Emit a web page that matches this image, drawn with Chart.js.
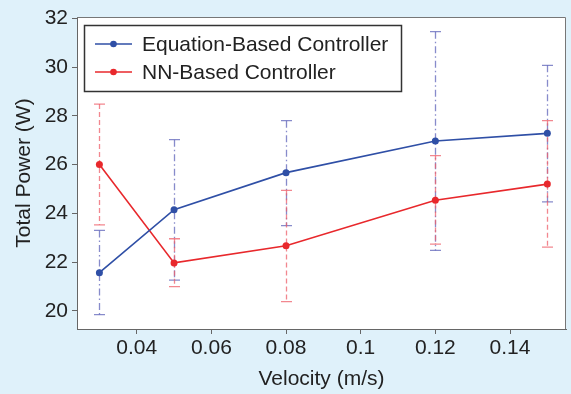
<!DOCTYPE html>
<html>
<head>
<meta charset="utf-8">
<script src="https://cdn.jsdelivr.net/npm/chart.js@4"></script>
<style>
  html, body { margin: 0; padding: 0; background: #dff1fa; }
  #wrap { width: 571px; height: 394px; }
</style>
</head>
<body>
<div id="wrap"><canvas id="powerChart" width="571" height="394"></canvas></div>
<script>
// velocities (m/s)
const velocities = [0.03, 0.05, 0.08, 0.12, 0.15];

// mean total power (W)
const eqPower = [21.57, 24.15, 25.67, 26.97, 27.28];
const nnPower = [26.0, 21.97, 22.67, 24.54, 25.2];

// error bar ends
const eqLower = [19.85, 21.26, 23.5, 22.48, 24.47];
const eqUpper = [23.3, 27.02, 27.8, 31.45, 30.07];
const nnLower = [23.53, 21.0, 20.38, 22.74, 22.62];
const nnUpper = [28.48, 22.96, 24.94, 26.37, 27.8];

const xTicks = [0.04, 0.06, 0.08, 0.1, 0.12, 0.14];
const xTickLabels = ['0.04', '0.06', '0.08', '0.1', '0.12', '0.14'];
const yTicks = [20, 22, 24, 26, 28, 30, 32];
const yTickLabels = ['20', '22', '24', '26', '28', '30', '32'];

const seriesNames = ['Equation-Based Controller', 'NN-Based Controller'];

const FONT = 'Liberation Sans, Arial, Helvetica, sans-serif';
const blue = '#2f4fa6';
const red = '#e8282c';

function toPoints(ys) {
    return velocities.map((v, i) => ({ x: v, y: ys[i] }));
}

// background + white plot area + box
const backdrop = {
    id: 'backdrop',
    beforeDraw(chart) {
        const { ctx, chartArea: a } = chart;
        ctx.save();
        ctx.fillStyle = '#dff1fa';
        ctx.fillRect(0, 0, chart.width, chart.height);
        ctx.fillStyle = '#ffffff';
        ctx.fillRect(a.left, a.top, a.right - a.left, a.bottom - a.top);
        ctx.restore();
    },
    afterDraw(chart) {
        const { ctx, chartArea: a } = chart;
        ctx.save();
        ctx.strokeStyle = '#777';
        ctx.lineWidth = 1;
        ctx.beginPath();
        ctx.moveTo(a.left, a.top + 0.5);
        ctx.lineTo(a.right - 0.5, a.top + 0.5);
        ctx.lineTo(a.right - 0.5, a.bottom);
        ctx.stroke();
        ctx.restore();
    }
};

// vertical error bars with caps
const errorBars = {
    id: 'errorBars',
    beforeDatasetsDraw(chart) {
        const { ctx, scales: { x, y } } = chart;
        const sets = [
            { lo: eqLower, hi: eqUpper, color: 'rgba(95,100,185,0.75)', dash: [7, 3, 1.5, 3] },
            { lo: nnLower, hi: nnUpper, color: 'rgba(238,95,105,0.75)', dash: [5, 3] }
        ];
        ctx.save();
        sets.forEach(s => {
            ctx.strokeStyle = s.color;
            ctx.lineWidth = 1.3;
            velocities.forEach((v, i) => {
                const px = Math.round(x.getPixelForValue(v)) + 0.5;
                const top = y.getPixelForValue(s.hi[i]);
                const bot = y.getPixelForValue(s.lo[i]);
                ctx.setLineDash(s.dash);
                ctx.beginPath();
                ctx.moveTo(px, top);
                ctx.lineTo(px, bot);
                ctx.stroke();
                ctx.setLineDash([]);
                ctx.beginPath();
                ctx.moveTo(px - 5.5, top);
                ctx.lineTo(px + 5.5, top);
                ctx.moveTo(px - 5.5, bot);
                ctx.lineTo(px + 5.5, bot);
                ctx.stroke();
            });
        });
        ctx.restore();
    }
};

// boxed legend in the upper left
const boxLegend = {
    id: 'boxLegend',
    afterDraw(chart) {
        const { ctx } = chart;
        ctx.save();
        ctx.fillStyle = '#fff';
        ctx.fillRect(84.5, 25.5, 317, 66);
        ctx.strokeStyle = '#333';
        ctx.lineWidth = 1.5;
        ctx.strokeRect(84.5, 25.5, 317, 66);
        chart.data.datasets.forEach((ds, i) => {
            const yy = 44 + i * 28;
            ctx.strokeStyle = ds.borderColor;
            ctx.lineWidth = 1.6;
            ctx.beginPath();
            ctx.moveTo(95, yy);
            ctx.lineTo(132, yy);
            ctx.stroke();
            ctx.fillStyle = ds.borderColor;
            ctx.beginPath();
            ctx.arc(113.5, yy, 3.3, 0, Math.PI * 2);
            ctx.fill();
            ctx.fillStyle = '#222';
            ctx.font = '21px ' + FONT;
            ctx.textBaseline = 'middle';
            ctx.fillText(ds.label, 142, yy + 1);
        });
        ctx.restore();
    }
};

const ctx = document.getElementById('powerChart').getContext('2d');
new Chart(ctx, {
    type: 'line',
    data: {
        datasets: [
            {
                label: seriesNames[0],
                data: toPoints(eqPower),
                borderColor: blue,
                backgroundColor: blue,
                borderWidth: 1.6,
                pointRadius: 3.5,
                pointBackgroundColor: blue,
                pointBorderWidth: 0
            },
            {
                label: seriesNames[1],
                data: toPoints(nnPower),
                borderColor: red,
                backgroundColor: red,
                borderWidth: 1.6,
                pointRadius: 3.5,
                pointBackgroundColor: red,
                pointBorderWidth: 0
            }
        ]
    },
    options: {
        responsive: false,
        animation: false,
        layout: { padding: { top: 17, right: 5, bottom: 0, left: 0 } },
        plugins: {
            legend: { display: false },
            tooltip: { enabled: false }
        },
        scales: {
            x: {
                type: 'linear',
                min: 0.024,
                max: 0.155,
                afterBuildTicks: s => { s.ticks = xTicks.map(v => ({ value: v })); },
                afterFit: s => { s.height = 65; },
                ticks: {
                    callback: (v, i) => xTickLabels[i],
                    font: { family: FONT, size: 21 },
                    color: '#222',
                    padding: 2,
                    maxRotation: 0
                },
                grid: { drawOnChartArea: false, drawTicks: true, tickLength: 5, color: '#666' },
                border: { display: true, color: '#666' },
                title: {
                    display: true,
                    text: 'Velocity (m/s)',
                    font: { family: FONT, size: 21 },
                    color: '#222',
                    padding: { top: 0, bottom: 2 }
                }
            },
            y: {
                min: 19.26,
                max: 32.05,
                afterBuildTicks: s => { s.ticks = yTicks.map(v => ({ value: v })); },
                afterFit: s => { s.width = 77; },
                ticks: {
                    callback: (v, i) => yTickLabels[i],
                    font: { family: FONT, size: 21 },
                    color: '#222',
                    padding: 4
                },
                grid: { drawOnChartArea: false, drawTicks: true, tickLength: 5, color: '#666' },
                border: { display: true, color: '#666' },
                title: {
                    display: true,
                    text: 'Total Power (W)',
                    font: { family: FONT, size: 21 },
                    color: '#222',
                    padding: { top: 12, bottom: 0 }
                }
            }
        }
    },
    plugins: [backdrop, errorBars, boxLegend]
});
</script>
</body>
</html>
